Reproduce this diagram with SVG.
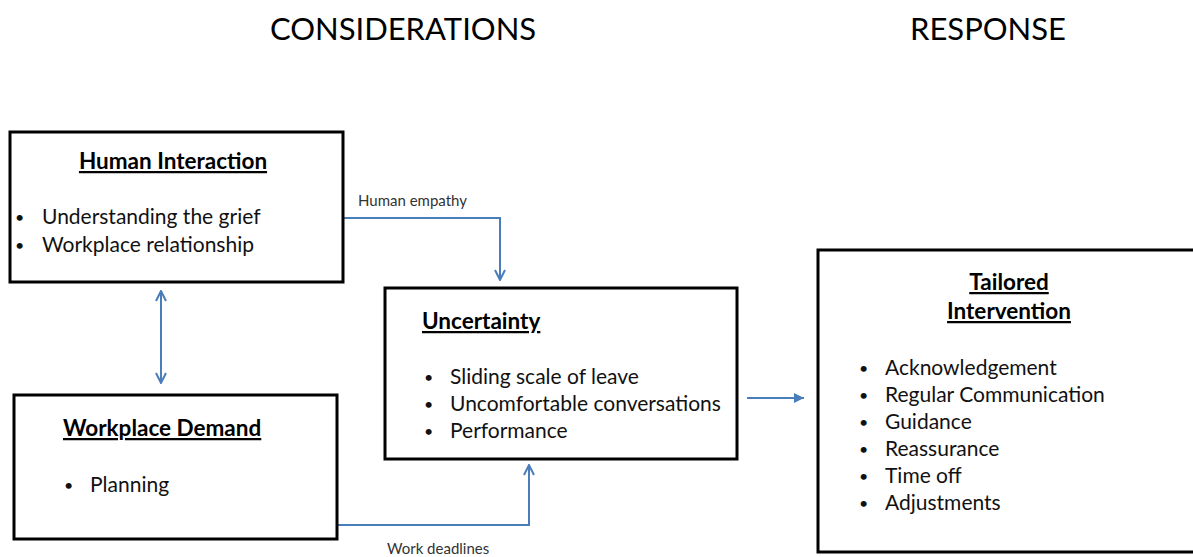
<svg xmlns="http://www.w3.org/2000/svg" width="1193" height="557" viewBox="0 0 1193 557">
<style>
.box{fill:#fff;stroke:#000;stroke-width:3}
.t{font-family:Lato,"Open Sans",sans-serif;font-size:21px;fill:#111}
.b{font-family:Lato,"Open Sans",sans-serif;font-size:16px;fill:#111}
.h{font-family:Lato,"Open Sans",sans-serif;font-size:22.5px;font-weight:bold;text-decoration:underline;fill:#000}
.title{font-family:Lato,"Open Sans",sans-serif;font-size:31px;fill:#000}
.lbl{font-family:Lato,"Open Sans",sans-serif;font-size:15px;fill:#333}
.c{fill:none;stroke:#4A7EBB;stroke-width:2}
</style>
<defs>
<marker id="open" viewBox="0 0 12 12" refX="11" refY="6" markerWidth="12" markerHeight="12" markerUnits="userSpaceOnUse" orient="auto-start-reverse">
<path d="M1,1 L11,6 L1,11" fill="none" stroke="#4A7EBB" stroke-width="2"/>
</marker>
<marker id="tri" viewBox="0 0 10 10" refX="10" refY="5" markerWidth="10" markerHeight="10" markerUnits="userSpaceOnUse" orient="auto">
<path d="M0,0 L10,5 L0,10 Z" fill="#4A7EBB"/>
</marker>
</defs>
<text class="title" x="403" y="40" text-anchor="middle">CONSIDERATIONS</text>
<text class="title" x="988" y="40" text-anchor="middle">RESPONSE</text>
<g id="connectors">
<polyline class="c" points="343,218 500,218 500,280" marker-end="url(#open)"/>
<line class="c" x1="161" y1="291" x2="161" y2="383" marker-start="url(#open)" marker-end="url(#open)"/>
<polyline class="c" points="337,525 529,525 529,465" marker-end="url(#open)"/>
<line class="c" x1="747" y1="398" x2="804" y2="398" marker-end="url(#tri)"/>
<text class="lbl" x="358" y="206">Human  empathy</text>
<text class="lbl" x="387" y="554">Work deadlines</text>
</g>
<g id="human-interaction">
<rect class="box" x="10" y="132" width="333" height="150"/>
<text class="h" x="173" y="169" text-anchor="middle">Human Interaction</text>
<text class="b" x="15" y="223">•</text><text class="t" x="42" y="224">Understanding the grief</text>
<text class="b" x="15" y="251">•</text><text class="t" x="42" y="252">Workplace relationship</text>
</g>
<g id="workplace-demand">
<rect class="box" x="14" y="395" width="323" height="144"/>
<text class="h" x="63" y="436">Workplace Demand</text>
<text class="b" x="64" y="491">•</text><text class="t" x="90" y="492">Planning</text>
</g>
<g id="uncertainty">
<rect class="box" x="385" y="288" width="352" height="171"/>
<text class="h" x="422" y="329">Uncertainty</text>
<text class="b" x="424" y="383">•</text><text class="t" x="450" y="384">Sliding scale of leave</text>
<text class="b" x="424" y="410">•</text><text class="t" x="450" y="411">Uncomfortable conversations</text>
<text class="b" x="424" y="437">•</text><text class="t" x="450" y="438">Performance</text>
</g>
<g id="tailored-intervention">
<rect class="box" x="818" y="250" width="380" height="302"/>
<text class="h" x="1009" y="290" text-anchor="middle">Tailored</text>
<text class="h" x="1009" y="319" text-anchor="middle">Intervention</text>
<text class="b" x="859" y="374">•</text><text class="t" x="885" y="375">Acknowledgement</text>
<text class="b" x="859" y="401">•</text><text class="t" x="885" y="402">Regular Communication</text>
<text class="b" x="859" y="428">•</text><text class="t" x="885" y="429">Guidance</text>
<text class="b" x="859" y="455">•</text><text class="t" x="885" y="456">Reassurance</text>
<text class="b" x="859" y="482">•</text><text class="t" x="885" y="483">Time off</text>
<text class="b" x="859" y="509">•</text><text class="t" x="885" y="510">Adjustments</text>
</g>
</svg>
